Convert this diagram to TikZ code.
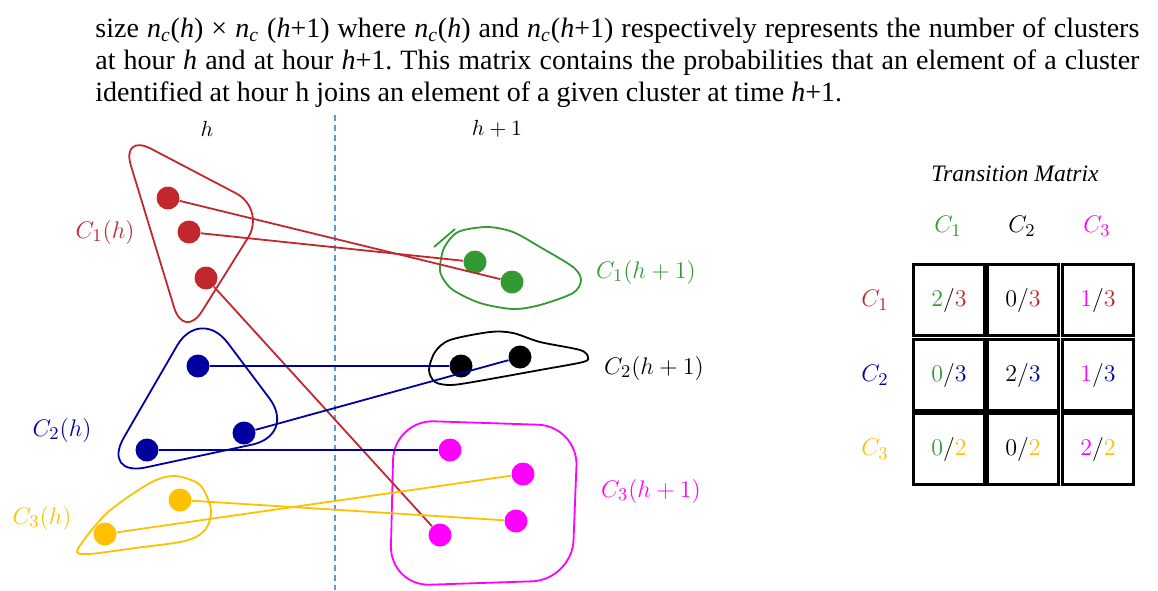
\documentclass[tikz,border=0pt]{standalone}
\usepackage{fontspec}
\usepackage{amsmath}
\usepackage{tikz}
\usetikzlibrary{positioning}

\newfontfamily\bodyfont{Liberation Serif}
\newcommand{\nclus}{\textit{n}\textsubscript{\textit{c}}}

\definecolor{cred}{HTML}{C1272D}
\definecolor{cgreen}{HTML}{339933}
\definecolor{cblue}{HTML}{0000A0}
\definecolor{cyellow}{HTML}{FFC000}
\definecolor{cmagenta}{HTML}{FF00FF}
\definecolor{csep}{HTML}{5B9BD5}

\tikzset{
  clusterdot/.style={circle, inner sep=0pt, minimum size=11.5pt},
  hull/.style={line width=0.9pt},
  link/.style={line width=0.9pt},
  clab/.style={font=\fontsize{12.5}{15}\selectfont},
  cellbox/.style={draw, line width=1.1pt, minimum size=35.5pt, inner sep=0pt,
                  font=\fontsize{12.5}{15}\selectfont},
}

\begin{document}
\begin{tikzpicture}[x=0.5pt, y=-0.5pt]
  \useasboundingbox (0,0) rectangle (1158,590);

  % paragraph above the figure
  \node[anchor=north west, inner sep=0pt, text width=522pt, align=justify,
        font=\bodyfont\fontsize{14}{16}\selectfont\frenchspacing] (para) at (95,17)
    {size \nclus(\textit{h}) × \nclus{} (\textit{h}+1) where \nclus(\textit{h}) and
     \nclus(\textit{h}+1) respectively represents the number of clusters\linebreak
     at hour \textit{h} and at hour \textit{h}+1. This matrix contains the probabilities
     that an element of a cluster\linebreak
     identified at hour h joins an element of a given cluster at time \textit{h}+1.};

  % time separator
  \coordinate (septop) at (335,115);
  \coordinate (sepbot) at (335,590);
  \draw[csep, line width=0.8pt, dash pattern=on 3pt off 2pt] (septop) -- (sepbot);
  \node[font=\fontsize{10.5}{12}\selectfont] (th) at (207,129) {$h$};
  \node[font=\fontsize{10.5}{12}\selectfont] (th1) at (497,129) {$h+1$};

  % clusters at hour h
  \draw[hull, cred, rounded corners=17pt] (121,133) -- (266,209) -- (184,340) -- cycle;
  \draw[hull, cblue, rounded corners=23pt] (200,306) -- (297,435) -- (101,477) -- cycle;
  \draw[hull, cyellow] plot[smooth cycle] coordinates {(78,549) (107,513) (150,483)
    (175,476) (200,485) (211,510) (205,530) (185,541) (135,548) (88,554)};

  % clusters at hour h+1
  \draw[hull, cgreen] plot[smooth cycle] coordinates {(440,267) (444,248) (458,232)
    (487,227) (513,232) (540,247) (573,267) (581,280) (573,293) (540,305)
    (513,309) (480,303) (453,290) (442,277)};
  \draw[hull, cgreen] (434,247) -- (455,229);
  \draw[hull, black] plot[smooth cycle] coordinates {(429,370) (435,352) (450,340)
    (490,332) (513,333) (540,342) (580,350) (588,357) (583,362) (540,370)
    (473,382) (450,385) (435,382)};
  \draw[hull, cmagenta, rounded corners=20pt] (394,420) -- (578,426) -- (572,580)
    -- (390,586) -- cycle;

  % elements
  \node[clusterdot, fill=cred] (r1) at (168,198) {};
  \node[clusterdot, fill=cred] (r2) at (189,232) {};
  \node[clusterdot, fill=cred] (r3) at (206,278) {};
  \node[clusterdot, fill=cblue] (b1) at (198,366) {};
  \node[clusterdot, fill=cblue] (b2) at (244,433) {};
  \node[clusterdot, fill=cblue] (b3) at (147,450) {};
  \node[clusterdot, fill=cyellow] (y1) at (180,500) {};
  \node[clusterdot, fill=cyellow] (y2) at (105,534) {};
  \node[clusterdot, fill=cgreen] (g1) at (475,262) {};
  \node[clusterdot, fill=cgreen] (g2) at (512,282) {};
  \node[clusterdot, fill=black] (k1) at (461,366) {};
  \node[clusterdot, fill=black] (k2) at (520,357) {};
  \node[clusterdot, fill=cmagenta] (m1) at (450,450) {};
  \node[clusterdot, fill=cmagenta] (m2) at (523,474) {};
  \node[clusterdot, fill=cmagenta] (m3) at (516,521) {};
  \node[clusterdot, fill=cmagenta] (m4) at (440,535) {};

  % transitions
  \draw[link, cred] (r1) -- (g2);
  \draw[link, cred] (r2) -- (g1);
  \draw[link, cred] (r3) -- (m4);
  \draw[link, cblue] (b1) -- (k1);
  \draw[link, cblue] (b2) -- (k2);
  \draw[link, cblue] (b3) -- (m1);
  \draw[link, cyellow] (y1) -- (m3);
  \draw[link, cyellow] (y2) -- (m2);

  % cluster labels
  \node[clab, cred] (l1h) at (105,232) {$C_1(h)$};
  \node[clab, cblue] (l2h) at (62,430) {$C_2(h)$};
  \node[clab, cyellow] (l3h) at (42,518) {$C_3(h)$};
  \node[clab, cgreen] (l1h1) at (646,272) {$C_1(h+1)$};
  \node[clab, black] (l2h1) at (654,368) {$C_2(h+1)$};
  \node[clab, cmagenta] (l3h1) at (651,491) {$C_3(h+1)$};

  % transition matrix
  \node[font=\bodyfont\itshape\fontsize{11.8}{13}\selectfont] (mtitle) at (1015,174)
    {Transition Matrix};
  \node[clab, cgreen] (col1) at (948,226) {$C_1$};
  \node[clab, black] (col2) at (1022,226) {$C_2$};
  \node[clab, cmagenta] (col3) at (1097,226) {$C_3$};
  \node[clab, cred] (row1) at (875,300) {$C_1$};
  \node[clab, cblue] (row2) at (875,375) {$C_2$};
  \node[clab, cyellow] (row3) at (875,449) {$C_3$};

  \node[cellbox] (c11) at (949,300) {$\textcolor{cgreen}{2}/\textcolor{cred}{3}$};
  \node[cellbox] (c12) at (1023,300) {$0/\textcolor{cred}{3}$};
  \node[cellbox] (c13) at (1098,300) {$\textcolor{cmagenta}{1}/\textcolor{cred}{3}$};
  \node[cellbox] (c21) at (949,375) {$\textcolor{cgreen}{0}/\textcolor{cblue}{3}$};
  \node[cellbox] (c22) at (1023,375) {$2/\textcolor{cblue}{3}$};
  \node[cellbox] (c23) at (1098,375) {$\textcolor{cmagenta}{1}/\textcolor{cblue}{3}$};
  \node[cellbox] (c31) at (949,449) {$\textcolor{cgreen}{0}/\textcolor{cyellow}{2}$};
  \node[cellbox] (c32) at (1023,449) {$0/\textcolor{cyellow}{2}$};
  \node[cellbox] (c33) at (1098,449) {$\textcolor{cmagenta}{2}/\textcolor{cyellow}{2}$};
\end{tikzpicture}
\end{document}
